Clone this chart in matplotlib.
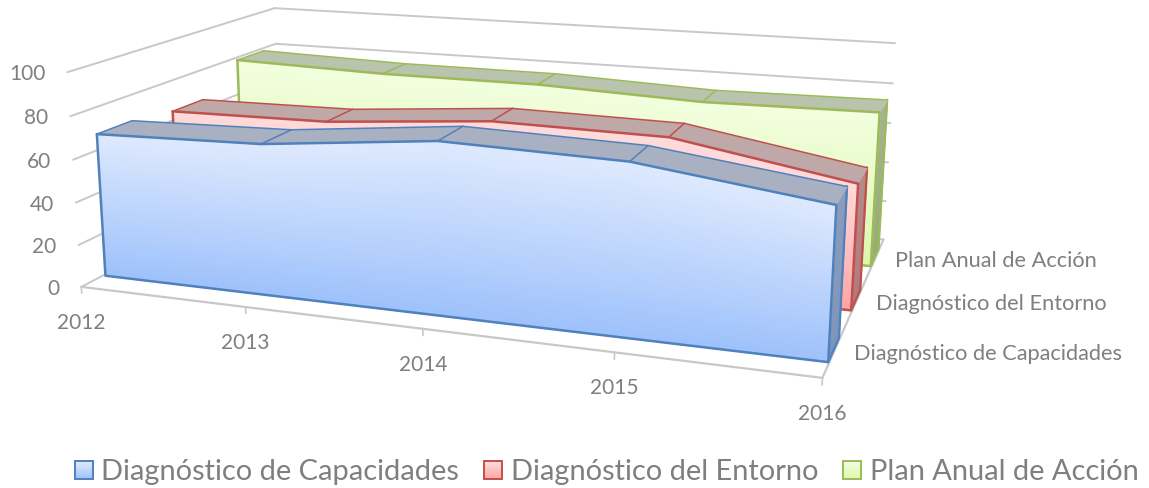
import matplotlib
matplotlib.use("Agg")
import matplotlib.pyplot as plt
import matplotlib.transforms as mtransforms
import numpy as np
from matplotlib.colors import LinearSegmentedColormap
from matplotlib.legend_handler import HandlerBase
from matplotlib.patches import Patch, Rectangle
from mpl_toolkits.mplot3d import proj3d
from mpl_toolkits.mplot3d.art3d import Poly3DCollection

# %% Data.
YEARS = ["2012", "2013", "2014", "2015", "2016"]
SERIES = ["Diagnóstico de Capacidades", "Diagnóstico del Entorno", "Plan Anual de Acción"]
CAPACIDADES = [68, 70, 78, 76, 65.5]
ENTORNO = [65, 66, 72.5, 71.5, 57.5]
PLAN = [79, 77, 77, 74, 75]
Z_TICKS = [0, 20, 40, 60, 80, 100]

# %% Styles: edge, front top/bottom, top face, side top/bottom.
STYLES = [
    dict(edge="#4F81BD", light="#DFEAFE", dark="#9DC1FB", top="#A8B0C2", s_light="#8D9DBA", s_dark="#7C95BD"),
    dict(edge="#C0504D", light="#FFDCDC", dark="#FFA3A3", top="#BFA8A8", s_light="#B58C8C", s_dark="#B27A7A"),
    dict(edge="#9BBB59", light="#F3FFE0", dark="#DCF7AC", top="#BAC3AD", s_light="#A8B398", s_dark="#95AD74"),
]
Y_CENTER = [0.165, 0.5, 0.84]
HALF_DEPTH = 0.075
X_START, X_STOP = 0.015, 3.995  # the areas sit slightly inside the floor
GRID = "#C8C8C8"
TEXT = "#7F7F7F"
FONT = "Lato"
N_ROWS = 80

W_PX, H_PX = 1149, 488
# Camera fitted against the axis ends of the picture.
ELEV, AZIM, ROLL, FOCAL = 13.9685, -70.5487, -0.026, 0.3653
BOX = (3.374, 1.9975, 1)
SCALE, CX, CY = 4486.96, 501.21, 161.12

plt.rcParams["font.family"] = [FONT, "DejaVu Sans"]
fig = plt.figure(figsize=(W_PX / 100, H_PX / 100), dpi=100)
ax = fig.add_subplot(projection="3d")
ax.set_xlim(0, len(YEARS) - 1)
ax.set_ylim(0, 1)
ax.set_zlim(0, 100)
ax.view_init(elev=ELEV, azim=AZIM, roll=ROLL)
ax.set_proj_type("persp", focal_length=FOCAL)
ax.set_box_aspect(BOX)
ax.set_axis_off()
ax.computed_zorder = False

# Place the square axes so one projected unit is SCALE pixels.
vx0, vx1 = ax.viewLim.intervalx
vy0, vy1 = ax.viewLim.intervaly
side = SCALE * (vx1 - vx0)
ax.set_position(
    [(CX + SCALE * vx0) / W_PX, (H_PX - CY + SCALE * vy0) / H_PX, side / W_PX, side / H_PX]
)
M = ax.get_proj()


def label(x, y, z, s, dx, dy, **kwargs):
    # Flat text anchored at a projected point, shifted by a few pixels.
    xp, yp, _ = proj3d.proj_transform(x, y, z, M)
    tr = mtransforms.offset_copy(ax.transData, fig=fig, x=dx, y=dy, units="dots")
    ax.text2D(xp, yp, s, transform=tr, color=TEXT, va="center", clip_on=False, zorder=80, **kwargs)


def line(xs, ys, zs, color, lw, zorder):
    ax.plot(xs, ys, zs, color=color, lw=lw, zorder=zorder, clip_on=False, solid_capstyle="round")


def add_polys(polys, zorder, **kwargs):
    coll = Poly3DCollection(polys, zorder=zorder, **kwargs)
    coll.set_clip_on(False)
    ax.add_collection3d(coll, autolim=False)


def shaded(corners_bottom, corners_top, light, dark, zorder):
    # corners run along the face; rows go from the bottom edge to the top edge
    cmap = LinearSegmentedColormap.from_list("f", [dark, light])
    b0, b1 = map(np.asarray, corners_bottom)
    t0, t1 = map(np.asarray, corners_top)
    # solid quad first, so nothing behind shows through the row seams
    add_polys([[b0, b1, t1, t0]], zorder, facecolors=[cmap(0.5)], edgecolors=[cmap(0.5)], linewidths=0.4)
    ts = np.linspace(0, 1, N_ROWS + 1)
    polys, cols = [], []
    for a, c in zip(ts[:-1], ts[1:]):
        polys.append([b0 + a * (t0 - b0), b1 + a * (t1 - b1), b1 + c * (t1 - b1), b0 + c * (t0 - b0)])
        cols.append(cmap((a + c) / 2))
    add_polys(polys, zorder, facecolors=cols, edgecolors=cols, linewidths=0.4)


# %% Walls and floor.
x_end = len(YEARS) - 1
for z in Z_TICKS:
    line([0, 0], [0, 1], [z, z], GRID, 1.4, 1)
    line([0, x_end], [1, 1], [z, z], GRID, 1.4, 1)
line([0, x_end], [0, 0], [0, 0], GRID, 1.6, 1)
line([x_end, x_end], [0, 1], [0, 0], GRID, 1.6, 1)
for i in range(len(YEARS)):
    line([i, i], [0, 0], [0, -3], GRID, 1.2, 1)
    label(i, 0, 0, YEARS[i], 0, -36, fontsize=15, ha="center")
for z in Z_TICKS:
    label(0, 0, z, str(z), -22, -2, fontsize=15, ha="right")

# %% One extruded area per series, back to front.
values = [CAPACIDADES, ENTORNO, PLAN]
xpos = [X_START + (X_STOP - X_START) * i / x_end for i in range(len(YEARS))]
for s in (2, 1, 0):
    st = STYLES[s]
    vals = values[s]
    y0, y1 = Y_CENTER[s] - HALF_DEPTH, Y_CENTER[s] + HALF_DEPTH
    base = 10 * (3 - s)
    xl, xr = xpos[0], xpos[-1]
    # end face on the right
    shaded(((xr, y0, 0), (xr, y1, 0)), ((xr, y0, vals[-1]), (xr, y1, vals[-1])),
           st["s_light"], st["s_dark"], base)
    line([xr, xr, xr], [y0, y1, y1], [0, 0, vals[-1]], st["edge"], 1.6, base + 1)
    line([xr, xr], [y0, y1], [vals[-1], vals[-1]], st["edge"], 1.6, base + 1)
    # top faces
    for i in range(x_end):
        add_polys([[(xpos[i], y0, vals[i]), (xpos[i + 1], y0, vals[i + 1]),
                    (xpos[i + 1], y1, vals[i + 1]), (xpos[i], y1, vals[i])]],
                  base + 2, facecolors=st["top"], edgecolors=st["top"], linewidths=0.4)
        line([xpos[i], xpos[i + 1]], [y1, y1], [vals[i], vals[i + 1]], st["edge"], 1.1, base + 3)
        line([xpos[i], xpos[i]], [y0, y1], [vals[i], vals[i]], st["edge"], 1.1, base + 3)
    # front face
    for i in range(x_end):
        shaded(((xpos[i], y0, 0), (xpos[i + 1], y0, 0)), ((xpos[i], y0, vals[i]), (xpos[i + 1], y0, vals[i + 1])),
               st["light"], st["dark"], base + 4)
    line(xpos, [y0] * len(xpos), vals, st["edge"], 1.8, base + 5)
    line([xl, xl, xr, xr], [y0] * 4, [vals[0], 0, 0, vals[-1]], st["edge"], 1.8, base + 5)
    label(x_end, Y_CENTER[s], 0, SERIES[s], 19, -4, fontsize=15.7, ha="left")


# %% Legend with gradient swatches.
class GradientHandler(HandlerBase):
    def create_artists(self, legend, orig, xd, yd, width, height, fontsize, trans):
        cmap = LinearSegmentedColormap.from_list("f", [orig.dark_c, orig.light_c])
        arts = []
        n = 16
        for k in range(n):
            arts.append(Rectangle((-xd, -yd + height * k / n), width, height / n + 0.3,
                                  facecolor=cmap(k / (n - 1)), edgecolor="none", transform=trans))
        arts.append(Rectangle((-xd, -yd), width, height, facecolor="none",
                              edgecolor=orig.get_edgecolor(), lw=1.4, transform=trans))
        return arts


handles = []
for s in range(3):
    h = Patch(edgecolor=STYLES[s]["edge"], label=SERIES[s])
    h.light_c, h.dark_c = STYLES[s]["light"], STYLES[s]["dark"]
    handles.append(h)
fig.legend(
    handles=handles, handler_map={Patch: GradientHandler()}, ncols=3, frameon=False,
    loc="lower left", bbox_to_anchor=(66 / W_PX, -6 / H_PX), fontsize=20.9, labelcolor=TEXT,
    handlelength=0.62, handleheight=0.62, handletextpad=0.3, columnspacing=0.86,
    borderpad=0.3, borderaxespad=0,
)

fig.savefig("out.png", dpi=100)
